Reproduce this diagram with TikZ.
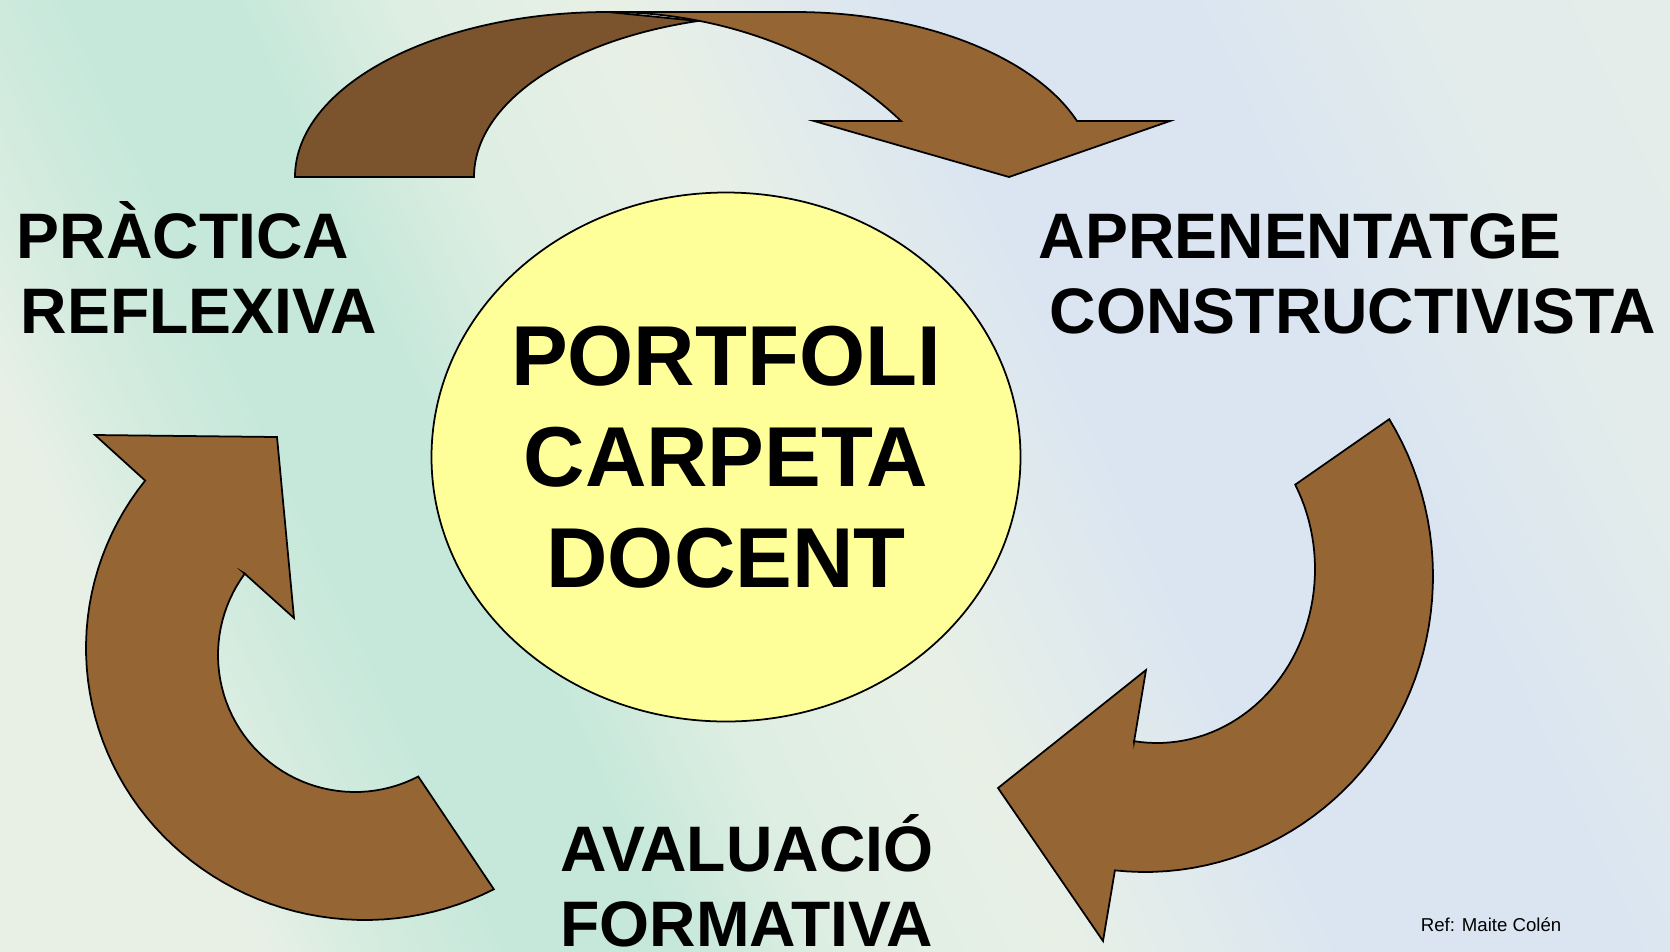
\documentclass[tikz,border=0pt]{standalone}
\usepackage{fontspec}
\setmainfont{Liberation Sans}
\usetikzlibrary{shapes.geometric}

\definecolor{mint}{HTML}{C5E8DA}
\definecolor{paleg}{HTML}{E8F0E6}
\definecolor{paleb}{HTML}{DAE5F1}
\definecolor{brownA}{HTML}{966534}
\definecolor{brownB}{HTML}{7B532D}
\definecolor{hubyellow}{HTML}{FFFF99}

\pgfdeclarehorizontalshading{bgshade}{100bp}{color(0bp)=(paleg); color(25bp)=(paleg); color(29bp)=(mint!60!paleg); color(33bp)=(mint); color(38bp)=(mint); color(43bp)=(mint!30!paleg); color(50bp)=(paleg); color(55bp)=(paleb!50!paleg); color(59bp)=(paleb); color(68bp)=(paleb); color(75bp)=(paleb!40!paleg); color(100bp)=(paleg)}

\begin{document}
\begin{tikzpicture}[x=0.1mm,y=-0.1mm,line width=0.5pt,
  band/.style={draw=black,fill=brownA},
  backband/.style={band,fill=brownB},
  hub/.style={ellipse,draw=black,fill=hubyellow,minimum width=58.9mm,minimum height=52.9mm,inner xsep=-1mm,inner ysep=0pt,align=center,font=\bfseries\fontsize{24.2}{28.7}\selectfont},
  stage/.style={inner sep=0pt,font=\bfseries\fontsize{18.3}{21.3}\selectfont}]
\useasboundingbox (0,0) rectangle (1670,951);
% background
\shade[shading=bgshade,shading angle=25] (0,0) rectangle (1670,951);

% top arrow
\draw[backband] (295,177) .. controls (295,86) and (435,12) .. (608,12) -- (698,21)
  .. controls (564,41) and (474,105) .. (474,177) -- cycle;
\draw[band] (608,12) -- (795,12) .. controls (921,12) and (1034,56) .. (1077,121)
  -- (1170,121) -- (1009,177) -- (814,121) -- (901,121)
  .. controls (830,53) and (722,12) .. (608,12) -- cycle;

% right arrow
\draw[band] plot[domain=-32:96,samples=50,variable=\t] ({1145+288*cos(\t)},{576+296*sin(\t)})
  -- (1103,941) -- (998,788) -- (1146,670) -- (1134,742)
  -- plot[domain=98.4:-29,samples=50,variable=\t] ({1157+158*cos(\t)},{569+174*sin(\t)}) -- cycle;

% left arrow
\draw[band] (95,435) -- (277,437) -- (294,618) -- (244,573)
  -- plot[domain=216.5:62.5,samples=50,variable=\t] ({355+137*cos(\t)},{655+137*sin(\t)})
  -- (493,888)
  -- plot[domain=62.5:218,samples=60,variable=\t] ({365+279*cos(\t)},{648+272*sin(\t)}) -- cycle;

% centre
\node[hub] (portfoli) at (726,457) {PORTFOLI\\CARPETA\\DOCENT};

% stages
\node[stage,align=left,anchor=base west] (practica) at (16,333) {PRÀCTICA\\\hspace{0.4mm}REFLEXIVA};
\node[stage,align=left,anchor=base west] (aprenentatge) at (1038,333) {APRENENTATGE\\\hspace{1.1mm}CONSTRUCTIVISTA};
\node[stage,align=center,anchor=base] (avaluacio) at (747,946) {AVALUACIÓ\\FORMATIVA};

\node[anchor=base west,inner sep=0pt,font=\fontsize{5.3}{6.4}\selectfont] (refnote) at (1420,931) {Ref: Maite Colén};
\end{tikzpicture}
\end{document}
